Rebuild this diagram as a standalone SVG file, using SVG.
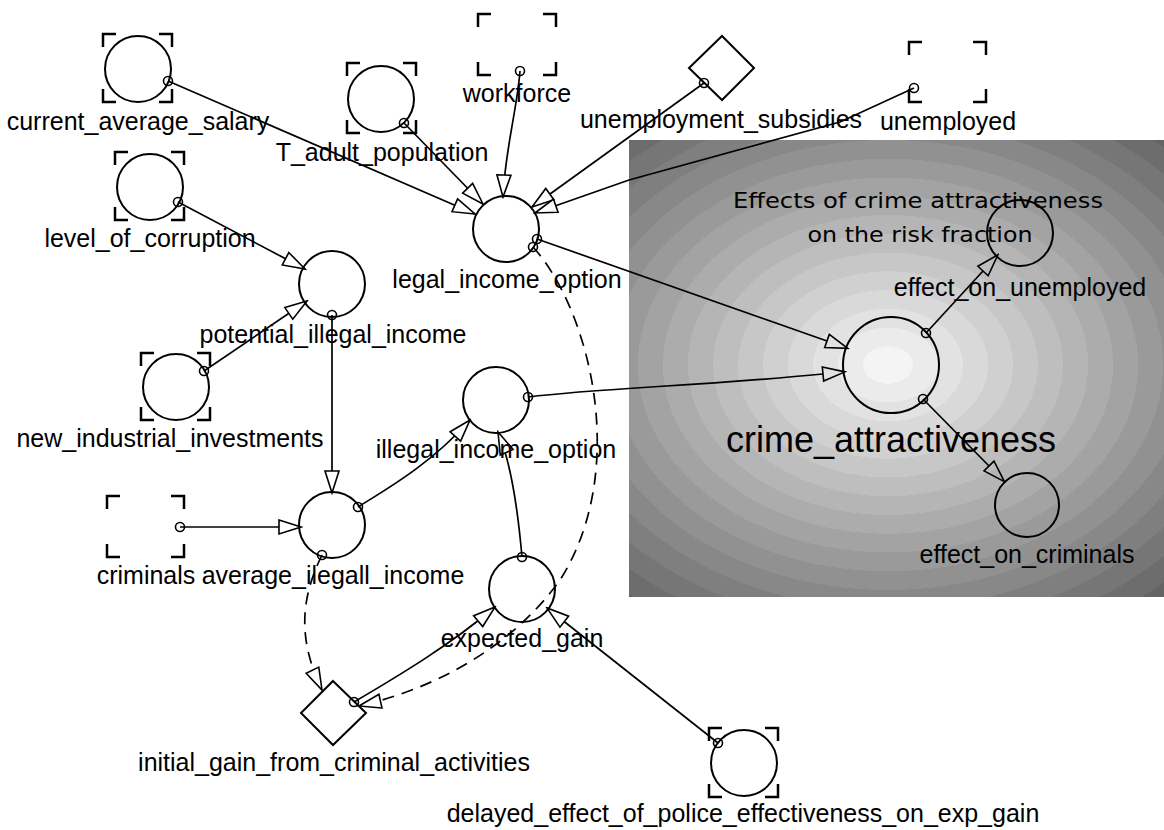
<svg xmlns="http://www.w3.org/2000/svg" width="1164" height="830" viewBox="0 0 1164 830">
<style>
.lbl{font-family:"Liberation Sans",Arial,sans-serif;font-size:25px;fill:#000;text-anchor:middle}
.big{font-size:36px}
.ttl{font-family:"Comic Sans MS","DejaVu Sans",sans-serif;font-size:21px;fill:#000;text-anchor:middle}
.nd{fill:none;stroke:#000;stroke-width:2}
.br{fill:none;stroke:#000;stroke-width:2.5}
.sc{fill:none;stroke:#000;stroke-width:1.6}
.ln{fill:none;stroke:#000;stroke-width:1.7;marker-end:url(#arr)}
.lg{fill:none;stroke:#000;stroke-width:1.7;marker-end:url(#arrB)}
.ds{fill:none;stroke:#000;stroke-width:1.7;stroke-dasharray:12,8;marker-end:url(#arr)}
</style>
<defs>
<marker id="arr" markerUnits="userSpaceOnUse" markerWidth="26" markerHeight="18" viewBox="-2 -2 26 18" refX="22" refY="7" orient="auto">
<path d="M0,0 L22,7 L0,14 Z" fill="#fff" stroke="#000" stroke-width="1.6"/>
</marker>
<marker id="arrB" markerUnits="userSpaceOnUse" markerWidth="26" markerHeight="18" viewBox="-2 -2 26 18" refX="0" refY="7" orient="auto">
<path d="M0,0 L22,7 L0,14 Z" fill="none" stroke="#000" stroke-width="1.6"/>
</marker>
<radialGradient id="rg" gradientUnits="userSpaceOnUse" cx="0" cy="0" r="1" gradientTransform="translate(888,365) scale(400,300)">
<stop offset="0" stop-color="#f4f4f4"/><stop offset="0.0625" stop-color="#f4f4f4"/>
<stop offset="0.0625" stop-color="#ebebeb"/><stop offset="0.125" stop-color="#ebebeb"/>
<stop offset="0.125" stop-color="#e2e2e2"/><stop offset="0.1875" stop-color="#e2e2e2"/>
<stop offset="0.1875" stop-color="#d9d9d9"/><stop offset="0.25" stop-color="#d9d9d9"/>
<stop offset="0.25" stop-color="#d0d0d0"/><stop offset="0.3125" stop-color="#d0d0d0"/>
<stop offset="0.3125" stop-color="#c7c7c7"/><stop offset="0.375" stop-color="#c7c7c7"/>
<stop offset="0.375" stop-color="#bebebe"/><stop offset="0.4375" stop-color="#bebebe"/>
<stop offset="0.4375" stop-color="#b5b5b5"/><stop offset="0.5" stop-color="#b5b5b5"/>
<stop offset="0.5" stop-color="#acacac"/><stop offset="0.5625" stop-color="#acacac"/>
<stop offset="0.5625" stop-color="#a3a3a3"/><stop offset="0.625" stop-color="#a3a3a3"/>
<stop offset="0.625" stop-color="#9a9a9a"/><stop offset="0.6875" stop-color="#9a9a9a"/>
<stop offset="0.6875" stop-color="#919191"/><stop offset="0.75" stop-color="#919191"/>
<stop offset="0.75" stop-color="#888888"/><stop offset="0.8125" stop-color="#888888"/>
<stop offset="0.8125" stop-color="#7f7f7f"/><stop offset="0.875" stop-color="#7f7f7f"/>
<stop offset="0.875" stop-color="#767676"/><stop offset="0.9375" stop-color="#767676"/>
<stop offset="0.9375" stop-color="#6d6d6d"/><stop offset="1" stop-color="#6d6d6d"/>
<stop offset="1" stop-color="#646464"/>
</radialGradient>
</defs>
<rect width="1164" height="830" fill="#fff"/>
<g id="panel">
<rect x="629" y="140" width="535" height="457" fill="url(#rg)"/>
<text class="ttl" x="918" y="208" textLength="370" lengthAdjust="spacingAndGlyphs">Effects of crime attractiveness</text>
<text class="ttl" x="920" y="242" textLength="225" lengthAdjust="spacingAndGlyphs">on the risk fraction</text>
</g>
<g id="connectors">
<path class="ln" d="M168,81 L475,214"/>
<path class="ln" d="M404,123 L483,204"/>
<path class="ln" d="M520,71 C517,110 505,150 503,197"/>
<path class="ln" d="M704,83 L532,207"/>
<path class="ln" d="M914,88 L840,122 L629,180 L535,213"/>
<path class="ln" d="M178,202 L305,269"/>
<path class="ln" d="M204,371 L307,301"/>
<path class="ln" d="M332,315 L332,493"/>
<path class="ln" d="M180,527 L301,527"/>
<path class="ln" d="M358,507 C385,490 430,465 470,420"/>
<path class="ln" d="M522,557 C517,500 510,460 498,432"/>
<path class="ln" d="M354,702 C400,675 450,645 495,607"/>
<path class="ln" d="M718,743 L547,608"/>
<path class="lg" d="M537,239 L827,341"/>
<path class="lg" d="M528,397 C600,388 700,386 823,374"/>
<path class="lg" d="M926,333 L983,271"/>
<path class="lg" d="M923,399 L989,466"/>
<path class="ds" d="M533,247 C590,310 630,470 560,580 C510,650 430,690 359,706"/>
<path class="ds" d="M322,555 C300,600 298,640 322,690"/>
</g>
<g id="current_average_salary">
<circle class="nd" cx="138" cy="69" r="33"/>
<path class="br" d="M103,47V34H116 M159,34H172V47 M103,89V102H116 M159,102H172V89"/>
<circle class="sc" cx="168" cy="81" r="4.5"/>
<text class="lbl" x="138" y="130">current_average_salary</text>
</g>
<g id="T_adult_population">
<circle class="nd" cx="381" cy="99" r="33"/>
<path class="br" d="M347,76V63H360 M403,63H416V76 M347,120V133H360 M403,133H416V120"/>
<circle class="sc" cx="404" cy="123" r="4.5"/>
<text class="lbl" x="382" y="161">T_adult_population</text>
</g>
<g id="workforce">
<path class="br" d="M478,27V14H491 M543,14H556V27 M478,62V75H491 M543,75H556V62"/>
<circle class="sc" cx="520" cy="71" r="4.5"/>
<text class="lbl" x="517" y="102">workforce</text>
</g>
<g id="unemployment_subsidies">
<path class="nd" d="M722,36 L754,68 L722,100 L689,68 Z"/>
<circle class="sc" cx="704" cy="83" r="4.5"/>
<text class="lbl" x="721" y="128">unemployment_subsidies</text>
</g>
<g id="unemployed">
<path class="br" d="M909,55V42H922 M973,42H986V55 M909,89V102H922 M973,102H986V89"/>
<circle class="sc" cx="914" cy="88" r="4.5"/>
<text class="lbl" x="948" y="130">unemployed</text>
</g>
<g id="level_of_corruption">
<circle class="nd" cx="150" cy="187" r="33"/>
<path class="br" d="M115,165V152H128 M171,152H184V165 M115,207V220H128 M171,220H184V207"/>
<circle class="sc" cx="178" cy="202" r="4.5"/>
<text class="lbl" x="150" y="247">level_of_corruption</text>
</g>
<g id="legal_income_option">
<circle class="nd" cx="506" cy="229" r="33"/>
<circle class="sc" cx="537" cy="239" r="4.5"/>
<circle class="sc" cx="533" cy="247" r="4.5"/>
<text class="lbl" x="507" y="288">legal_income_option</text>
</g>
<g id="potential_illegal_income">
<circle class="nd" cx="332" cy="284" r="33"/>
<circle class="sc" cx="332" cy="315" r="4.5"/>
<text class="lbl" x="333" y="343">potential_illegal_income</text>
</g>
<g id="new_industrial_investments">
<circle class="nd" cx="176" cy="387" r="33"/>
<path class="br" d="M141,366V353H154 M197,353H210V366 M141,407V420H154 M197,420H210V407"/>
<circle class="sc" cx="204" cy="371" r="4.5"/>
<text class="lbl" x="170" y="447">new_industrial_investments</text>
</g>
<g id="illegal_income_option">
<circle class="nd" cx="496" cy="400" r="33"/>
<circle class="sc" cx="528" cy="397" r="4.5"/>
<text class="lbl" x="496" y="458">illegal_income_option</text>
</g>
<g id="criminals">
<path class="br" d="M107,509V496H120 M171,496H184V509 M107,544V557H120 M171,557H184V544"/>
<circle class="sc" cx="180" cy="527" r="4.5"/>
<text class="lbl" x="146" y="584">criminals</text>
</g>
<g id="average_ilegall_income">
<circle class="nd" cx="332" cy="525" r="33"/>
<circle class="sc" cx="358" cy="507" r="4.5"/>
<circle class="sc" cx="322" cy="555" r="4.5"/>
<text class="lbl" x="333" y="584">average_ilegall_income</text>
</g>
<g id="expected_gain">
<circle class="nd" cx="522" cy="589" r="33"/>
<circle class="sc" cx="522" cy="557" r="4.5"/>
<text class="lbl" x="522" y="647">expected_gain</text>
</g>
<g id="initial_gain_from_criminal_activities">
<path class="nd" d="M333,681 L366,713 L333,745 L301,713 Z"/>
<circle class="sc" cx="354" cy="702" r="4.5"/>
<text class="lbl" x="334" y="771">initial_gain_from_criminal_activities</text>
</g>
<g id="delayed_effect_of_police_effectiveness_on_exp_gain">
<circle class="nd" cx="744" cy="763" r="33"/>
<path class="br" d="M709,741V728H722 M765,728H778V741 M709,784V797H722 M765,797H778V784"/>
<circle class="sc" cx="718" cy="743" r="4.5"/>
<text class="lbl" x="743" y="822">delayed_effect_of_police_effectiveness_on_exp_gain</text>
</g>
<g id="crime_attractiveness">
<circle class="nd" cx="891" cy="365" r="48"/>
<circle class="sc" cx="926" cy="333" r="4.5"/>
<circle class="sc" cx="923" cy="399" r="4.5"/>
<text class="lbl big" x="891" y="452">crime_attractiveness</text>
</g>
<g id="effect_on_unemployed">
<circle class="nd" cx="1020" cy="233" r="33"/>
<text class="lbl" x="1020" y="296">effect_on_unemployed</text>
</g>
<g id="effect_on_criminals">
<circle class="nd" cx="1027" cy="505" r="32"/>
<text class="lbl" x="1027" y="563">effect_on_criminals</text>
</g>
</svg>
